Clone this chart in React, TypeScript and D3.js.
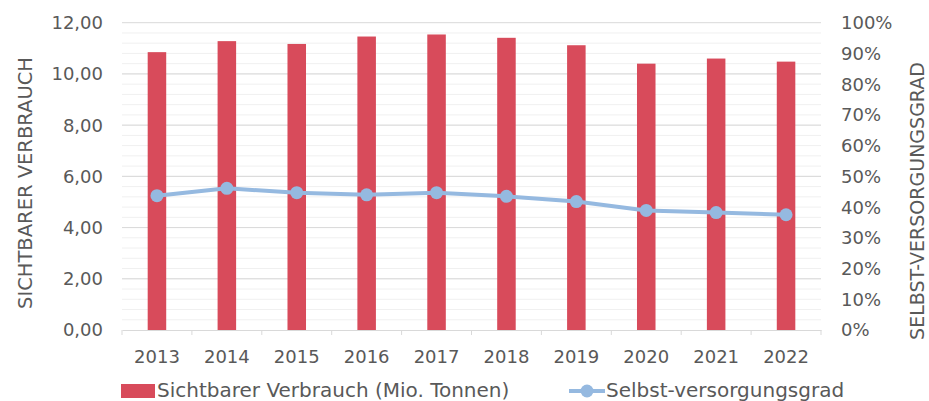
import React, { useEffect, useRef } from 'react'
import { select, scaleBand, scaleLinear, axisBottom, line, range } from 'd3'

const years = ['2013', '2014', '2015', '2016', '2017', '2018', '2019', '2020', '2021', '2022']
const consumption = [10.85, 11.28, 11.17, 11.46, 11.54, 11.41, 11.12, 10.4, 10.6, 10.48]
const selfSufficiency = [43.7, 46.1, 44.7, 44.0, 44.7, 43.5, 41.8, 38.9, 38.2, 37.5]
const leftTicks = [0, 2, 4, 6, 8, 10, 12]
const rightTicks = [0, 10, 20, 30, 40, 50, 60, 70, 80, 90, 100]

const barLabel = 'Sichtbarer Verbrauch (Mio. Tonnen)'
const lineLabel = 'Selbst-versorgungsgrad'
const leftTitle = 'SICHTBARER VERBRAUCH'
const rightTitle = 'SELBST-VERSORGUNGSGRAD'

const FONT = '"DejaVu Sans", sans-serif'
const TEXT = '#595959'
const BAR = '#d84b5b'
const LINE = '#95b9e0'

export default function App() {
  const ref = useRef<SVGSVGElement>(null)

  useEffect(() => {
    document.body.style.margin = '0'
    const width = 929, height = 401
    const margin = { top: 22.7, right: 108, bottom: 71, left: 122 }
    const innerW = width - margin.left - margin.right
    const innerH = height - margin.top - margin.bottom

    const svg = select(ref.current)
    svg.selectAll('*').remove()
    const g = svg.append('g').attr('transform', `translate(${margin.left},${margin.top})`)

    const x = scaleBand().domain(years).range([0, innerW]).padding(0)
    const y = scaleLinear().domain([0, 12]).range([innerH, 0])
    const y2 = scaleLinear().domain([0, 100]).range([innerH, 0])

    // minor gridlines
    g.append('g')
      .selectAll('line')
      .data(range(0.4, 12, 0.4))
      .join('line')
      .attr('x1', 0).attr('x2', innerW)
      .attr('y1', d => y(d)).attr('y2', d => y(d))
      .attr('stroke', '#f0f0f0').attr('stroke-width', 1)

    // major gridlines
    g.append('g')
      .selectAll('line')
      .data(leftTicks.slice(1))
      .join('line')
      .attr('x1', 0).attr('x2', innerW)
      .attr('y1', d => y(d)).attr('y2', d => y(d))
      .attr('stroke', '#d9d9d9').attr('stroke-width', 1)

    // x axis
    const xAxis = g.append('g')
      .attr('transform', `translate(0,${innerH})`)
      .call(axisBottom(x).tickSize(0).tickPadding(0))
    xAxis.select('.domain').attr('stroke', '#d9d9d9')
    xAxis.selectAll('text').remove()
    g.append('g')
      .selectAll('line')
      .data(range(0, years.length + 1))
      .join('line')
      .attr('x1', d => d * x.step()).attr('x2', d => d * x.step())
      .attr('y1', innerH).attr('y2', innerH + 5)
      .attr('stroke', '#d9d9d9')
    g.append('g')
      .selectAll('text')
      .data(years)
      .join('text')
      .attr('x', d => (x(d) ?? 0) + x.bandwidth() / 2)
      .attr('y', innerH + 33)
      .attr('text-anchor', 'middle')
      .attr('font-family', FONT).attr('font-size', 18).attr('fill', TEXT)
      .text(d => d)

    // left ticks
    g.append('g')
      .selectAll('text')
      .data(leftTicks)
      .join('text')
      .attr('x', -19)
      .attr('y', d => y(d))
      .attr('dy', '0.36em')
      .attr('text-anchor', 'end')
      .attr('font-family', FONT).attr('font-size', 18).attr('fill', TEXT)
      .text(d => d.toFixed(2).replace('.', ','))

    // right ticks
    g.append('g')
      .selectAll('text')
      .data(rightTicks)
      .join('text')
      .attr('x', innerW + 20)
      .attr('y', d => y2(d))
      .attr('dy', '0.36em')
      .attr('text-anchor', 'start')
      .attr('font-family', FONT).attr('font-size', 18).attr('fill', TEXT)
      .text(d => `${d}%`)

    // bars
    const bw = x.bandwidth() * 0.265
    g.append('g')
      .selectAll('rect')
      .data(consumption)
      .join('rect')
      .attr('x', (d, i) => (x(years[i]) ?? 0) + x.bandwidth() / 2 - bw / 2)
      .attr('y', d => y(d))
      .attr('width', bw)
      .attr('height', d => innerH - y(d))
      .attr('fill', BAR)

    // line
    const cx = (i: number) => (x(years[i]) ?? 0) + x.bandwidth() / 2
    const path = line<number>().x((d, i) => cx(i)).y(d => y2(d))
    g.append('path')
      .datum(selfSufficiency)
      .attr('d', path)
      .attr('fill', 'none')
      .attr('stroke', LINE)
      .attr('stroke-width', 4)
      .attr('stroke-linejoin', 'round')
    g.append('g')
      .selectAll('circle')
      .data(selfSufficiency)
      .join('circle')
      .attr('cx', (d, i) => cx(i))
      .attr('cy', d => y2(d))
      .attr('r', 6.5)
      .attr('fill', LINE)

    // axis titles
    svg.append('text')
      .attr('transform', `translate(32,183) rotate(-90)`)
      .attr('text-anchor', 'middle')
      .attr('font-family', FONT).attr('font-size', 19.5).attr('fill', TEXT)
      .text(leftTitle)
    svg.append('text')
      .attr('transform', `translate(924,201) rotate(-90)`)
      .attr('text-anchor', 'middle')
      .attr('font-family', FONT).attr('font-size', 19).attr('fill', TEXT)
      .text(rightTitle)

    // legend
    const leg = svg.append('g')
    leg.append('rect').attr('x', 121).attr('y', 384).attr('width', 34).attr('height', 14).attr('fill', BAR)
    leg.append('text')
      .attr('x', 157).attr('y', 397)
      .attr('font-family', FONT).attr('font-size', 20).attr('fill', TEXT)
      .text(barLabel)
    leg.append('line').attr('x1', 569).attr('x2', 605).attr('y1', 391).attr('y2', 391)
      .attr('stroke', LINE).attr('stroke-width', 4)
    leg.append('circle').attr('cx', 587).attr('cy', 391).attr('r', 6.5).attr('fill', LINE)
    leg.append('text')
      .attr('x', 606).attr('y', 397)
      .attr('font-family', FONT).attr('font-size', 20).attr('fill', TEXT)
      .text(lineLabel)
  }, [])

  return <svg ref={ref} width={929} height={401} style={{ display: 'block' }} />
}
